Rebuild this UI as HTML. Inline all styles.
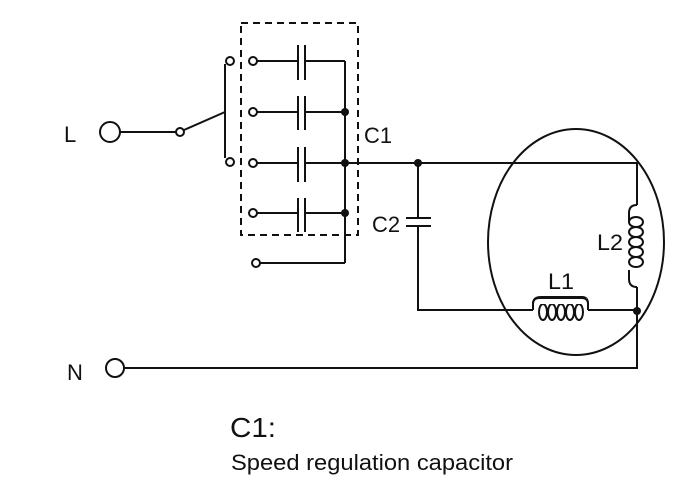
<!DOCTYPE html>
<html><head><meta charset="utf-8"><style>html,body{margin:0;padding:0;background:#fff}svg{display:block}</style></head>
<body>
<svg width="700" height="500" viewBox="0 0 700 500" xmlns="http://www.w3.org/2000/svg" font-family="'Liberation Sans', sans-serif">
<g stroke="#111" stroke-width="2" fill="none">
<rect x="241" y="23" width="117" height="212" stroke-dasharray="7,5"/>
<circle cx="110" cy="132" r="10"/>
<line x1="120" y1="132" x2="176" y2="132"/>
<circle cx="180" cy="132" r="4"/>
<line x1="184" y1="130" x2="225" y2="112"/>
<line x1="225" y1="64" x2="225" y2="158"/>
<circle cx="230" cy="61" r="4"/>
<circle cx="230" cy="162" r="4"/>
<circle cx="253" cy="61" r="4"/><circle cx="253" cy="112" r="4"/><circle cx="253" cy="163" r="4"/><circle cx="253" cy="213" r="4"/><circle cx="256" cy="263" r="4"/>
<path d="M257 61H298M305 61H345M257 112H298M305 112H345M257 163H298M305 163H345M257 213H298M305 213H345M260 263H345"/>
<path d="M298 45V80M305 45V80M298 96V130M305 96V130M298 147V182M305 147V182M298 198V232M305 198V232"/>
<line x1="345" y1="61" x2="345" y2="263"/>
<path d="M345 163H637V205"/>
<!-- L2 coil -->
<path d="M637 205 q-8 0 -8 8 V222 M637 287 q-8 0 -8 -8 V270"/>
<ellipse cx="636" cy="222" rx="7" ry="5"/>
<ellipse cx="636" cy="232" rx="7" ry="5"/>
<ellipse cx="636" cy="242" rx="7" ry="5"/>
<ellipse cx="636" cy="252" rx="7" ry="5"/>
<ellipse cx="636" cy="262" rx="7" ry="5"/>
<path d="M637 287V311"/>
<!-- C2 -->
<path d="M418 163V218M418 226V310H533"/>
<path d="M406 218H431M406 226H431"/>
<!-- L1 coil -->
<path d="M533 310V304 q0 -7 8 -7 H582 q6 0 6 7 V310"/>
<ellipse cx="543" cy="312" rx="4" ry="8"/>
<ellipse cx="552" cy="312" rx="4" ry="8"/>
<ellipse cx="561" cy="312" rx="4" ry="8"/>
<ellipse cx="570" cy="312" rx="4" ry="8"/>
<ellipse cx="579" cy="312" rx="4" ry="8"/>
<path d="M588 310H637"/>
<ellipse cx="576" cy="242" rx="88" ry="113"/>
<circle cx="115" cy="368" r="9"/>
<path d="M124 368H637V311"/>
</g>
<rect x="535" y="298" width="52" height="6" fill="#fff"/>
<path d="M533 310V304 q0 -6 6 -6 H582 q6 0 6 6 V310" stroke="#111" stroke-width="2" fill="none"/>
<g fill="#111">
<circle cx="345" cy="112" r="4"/><circle cx="345" cy="163" r="4"/><circle cx="345" cy="213" r="4"/>
<circle cx="418" cy="163" r="4"/><circle cx="637" cy="311" r="4"/>
</g>
<g fill="#111" font-size="22">
<text x="64" y="142">L</text>
<text x="67" y="380">N</text>
<text x="364" y="143" textLength="28" lengthAdjust="spacingAndGlyphs">C1</text>
<text x="372" y="232" textLength="28" lengthAdjust="spacingAndGlyphs">C2</text>
<text x="597" y="250" textLength="26" lengthAdjust="spacingAndGlyphs">L2</text>
<text x="548" y="289" textLength="26" lengthAdjust="spacingAndGlyphs">L1</text>
<text x="230" y="437" font-size="28" textLength="46" lengthAdjust="spacingAndGlyphs">C1:</text>
<text x="231" y="470" font-size="22" textLength="282" lengthAdjust="spacingAndGlyphs">Speed regulation capacitor</text>
</g>
</svg>
</body></html>
